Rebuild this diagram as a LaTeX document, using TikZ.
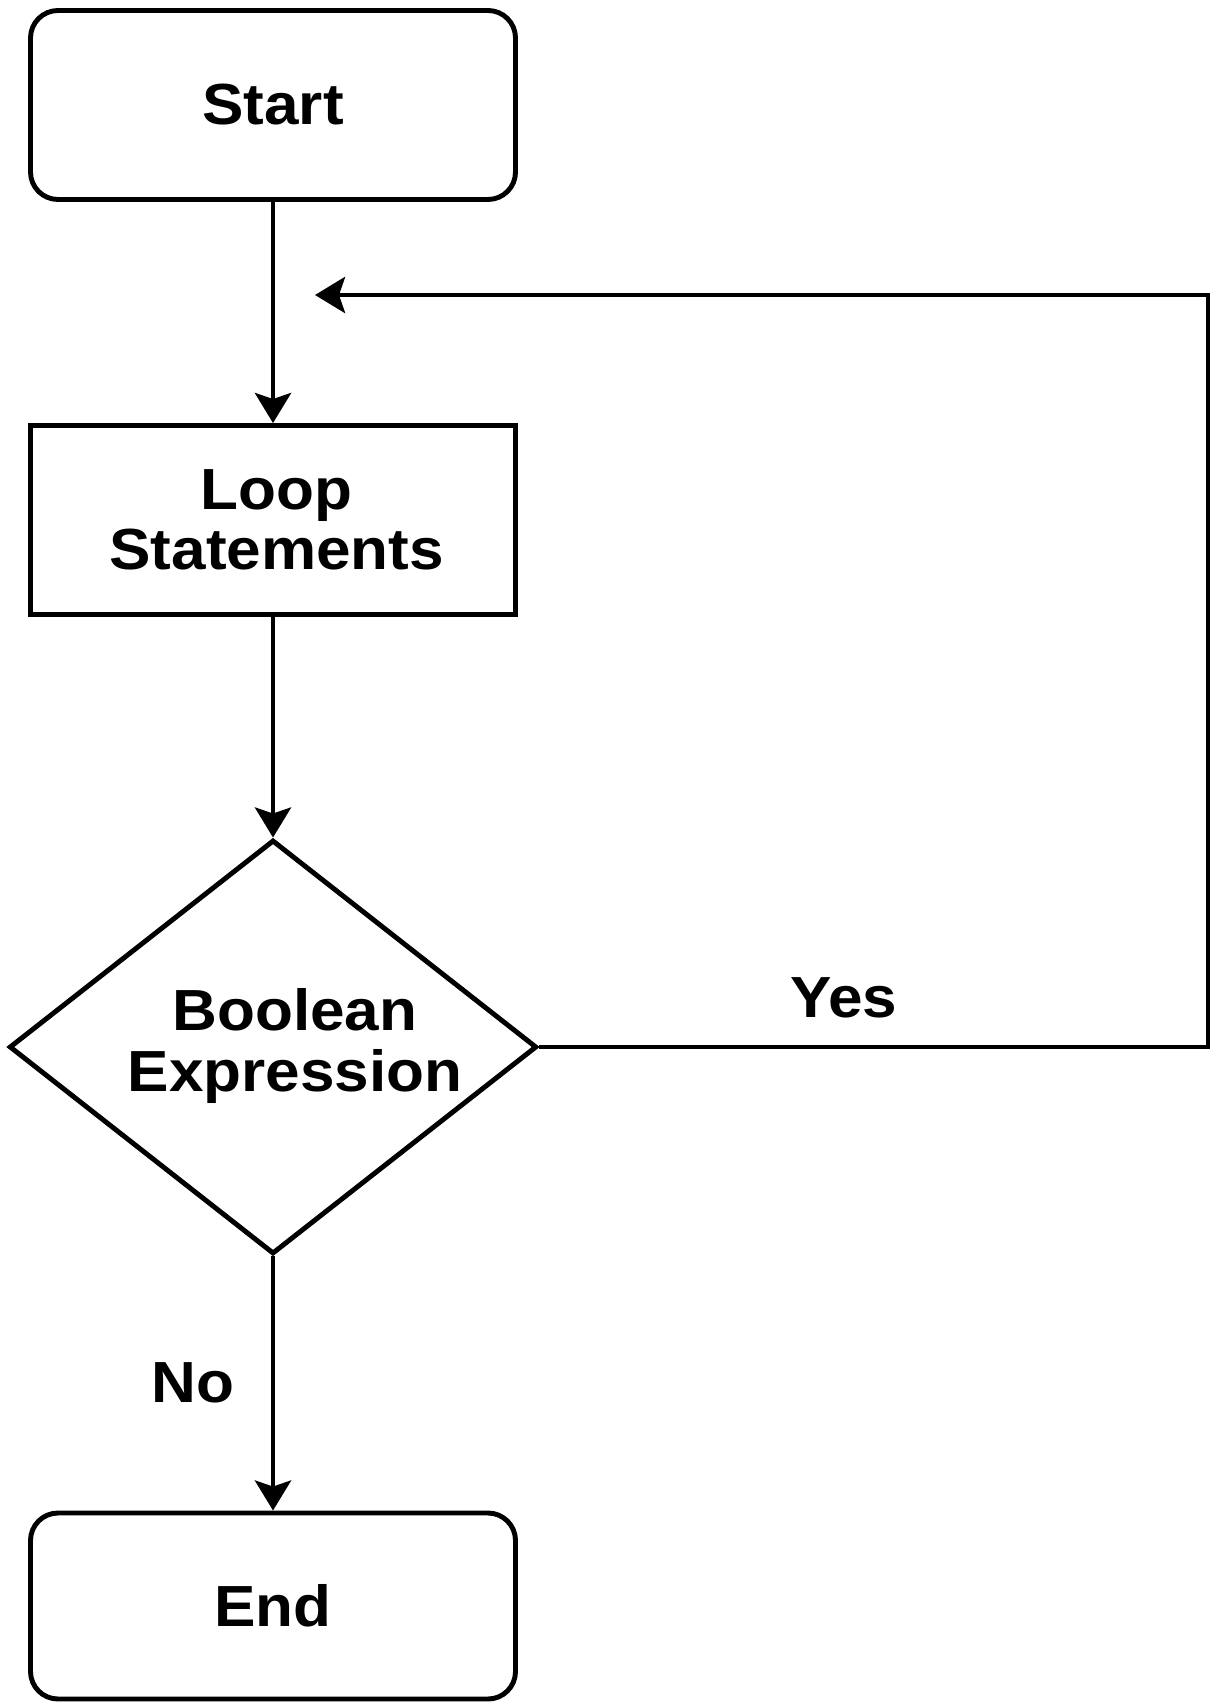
\documentclass[tikz,border=0pt]{standalone}
\usepackage{fontspec}
\setmainfont[FakeStretch=1.07]{Liberation Sans}
\usetikzlibrary{shapes.geometric, arrows.meta, positioning}
\tikzstyle{terminal}  = [draw, line width=2.8pt, rounded corners=0.55cm, minimum width=9.7cm, minimum height=3.78cm, align=center]
\tikzstyle{process}   = [draw, line width=2.8pt, minimum width=9.7cm, minimum height=3.78cm, align=center]
\tikzstyle{decision}  = [draw, line width=2.8pt, diamond, minimum width=10.55cm, minimum height=8.28cm, inner sep=0pt, align=center]
\tikzstyle{flowarrow} = [line width=2.8pt, -{Stealth[length=0.6cm, width=0.72cm, inset=0.12cm]}]
\tikzstyle{flowlabel} = [align=center]

\begin{document}
\begin{tikzpicture}[
        x=1cm,
        y=1cm,
        every node/.style={font=\fontsize{33}{34.5}\selectfont\bfseries}
    ]
        \useasboundingbox (0,0) rectangle (24.22,-34.04);

        % Uzly
        \node[terminal] (start) at (5.46,-2.1) {Start};
        \node[process] (body) at (5.46,-10.4) {\hspace*{0.15cm}Loop\\\hspace*{0.15cm}Statements};
        \node[decision,
              label={[flowlabel, xshift=0.44cm, yshift=0.02cm]center:Boolean\\Expression}]
            (cond) at (5.46,-20.94) {};
        \node[terminal, minimum height=3.72cm] (stop) at (5.46,-32.12) {End};

        % Zpětná větev
        \coordinate (back) at (6.3,-5.9);
        \coordinate (corner1) at (24.16,-20.94);
        \coordinate (corner2) at (24.16,-5.9);

        % Spojnice
        \draw[flowarrow] (start) -- (body);
        \draw[flowarrow] (body) -- (cond);
        \draw[flowarrow] (cond) -- (stop);
        \draw[flowarrow] (cond.east) -- (corner1) -- (corner2) -- (back);

        % Popisky větví
        \node[flowlabel] (yes) at (16.88,-19.96) {Yes};
        \node[flowlabel] (no) at (3.86,-27.66) {No};

    \end{tikzpicture}
\end{document}
